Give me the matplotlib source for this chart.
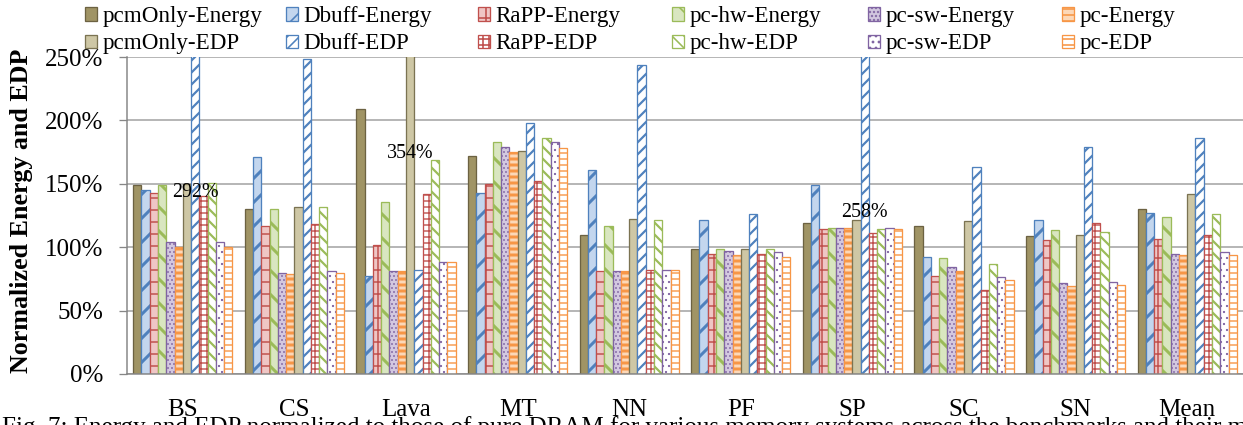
import numpy as np
import matplotlib
matplotlib.use("Agg")
import matplotlib.pyplot as plt

plt.rcParams['font.family'] = ['Liberation Serif', 'DejaVu Serif']
plt.rcParams['hatch.linewidth'] = 1.6

benchmarks = ['BS', 'CS', 'Lava', 'MT', 'NN', 'PF', 'SP', 'SC', 'SN', 'Mean']

# normalized values in percent
pcm_energy = [149, 130.5, 209, 172, 109.7, 98.4, 119.2, 116.6, 108.7, 130.5]
dbuff_energy = [145.5, 171, 77.4, 143, 160.5, 121.3, 149, 92.4, 121.3, 127]
rapp_energy = [142.4, 117, 101.6, 150, 81, 94.7, 114.5, 77.4, 105.3, 106.3]
pchw_energy = [149, 130.5, 135.3, 182.6, 116.8, 98.4, 115.5, 91.3, 113.2, 123.7]
pcsw_energy = [104, 79.7, 81, 179, 81, 97, 115.5, 84.2, 71.6, 94.7]
pc_energy = [100.5, 78.7, 81, 174.7, 81, 93.7, 115.5, 81, 69.5, 93.7]
pcm_edp = [150, 131.8, 354, 175.5, 122.4, 98.4, 121.3, 120.3, 109.7, 142]
dbuff_edp = [292, 248.4, 82, 197.6, 244, 126, 258, 163, 179.2, 186]
rapp_edp = [140, 118, 142, 152.6, 82, 94.7, 111, 66, 119.2, 109.7]
pchw_edp = [150.5, 131.8, 168.7, 186, 121.3, 98.4, 114.5, 86.6, 112, 126]
pcsw_edp = [104, 81, 88, 182.6, 82, 96, 115.5, 76.3, 72.6, 96]
pc_edp = [100.5, 79.7, 88, 178, 82, 92.4, 114.5, 74.2, 70.5, 93.7]

# name, values, fill, edge/hatch colour, hatch, hatch linewidth
series = [
    ('pcmOnly-Energy', pcm_energy, '#a09465', '#6c6242', None, 1),
    ('Dbuff-Energy', dbuff_energy, '#c3d6ee', '#4f81bd', '/', 3.0),
    ('RaPP-Energy', rapp_energy, '#efc6c5', '#c0504d', '+', 1.5),
    ('pc-hw-Energy', pchw_energy, '#d9e6c0', '#9bbb59', '\\', 3.0),
    ('pc-sw-Energy', pcsw_energy, '#d3c8e0', '#8064a2', '...', 1),
    ('pc-Energy', pc_energy, '#fcd8b8', '#f79646', '--', 3.0),
    ('pcmOnly-EDP', pcm_edp, '#cec7a5', '#7b7352', None, 1),
    ('Dbuff-EDP', dbuff_edp, 'white', '#4f81bd', '//', 2.2),
    ('RaPP-EDP', rapp_edp, 'white', '#c0504d', '++', 1.4),
    ('pc-hw-EDP', pchw_edp, 'white', '#9bbb59', '\\\\', 2.2),
    ('pc-sw-EDP', pcsw_edp, 'white', '#8064a2', '..', 1),
    ('pc-EDP', pc_edp, 'white', '#f79646', '--', 1.4),
]

W, H = 1243, 425
fig = plt.figure(figsize=(W / 72, H / 72), dpi=72)
ax = fig.add_axes([127 / W, 51 / H, 1116 / W, 317 / H])

x = np.arange(len(benchmarks))
w = 1 / 13.5
ymax = 250
bars = []
for k, (name, vals, fc, ec, hatch, hlw) in enumerate(series):
    b = ax.bar(x + (k - 5.5) * w, vals, w, color=fc, edgecolor=ec,
               hatch=hatch, linewidth=1.3, label=name, zorder=2)
    for p in b.patches:
        if hasattr(p, 'set_hatch_linewidth'):
            p.set_hatch_linewidth(hlw)
    bars.append(b)

# data labels for bars cut off by the axis limit
label_y = {0: 143, 2: 174, 6: 127}
for k, (name, vals, fc, ec, hatch, hlw) in enumerate(series):
    for i, v in enumerate(vals):
        if v > ymax:
            ax.text(x[i] + (k - 5.5) * w, label_y[i], f'{v:.0f}%', ha='center',
                    va='center', fontsize=20, zorder=5)

ax.set_xlim(-0.5, 9.5)
ax.set_ylim(0, ymax)
ax.set_yticks(np.arange(0, 251, 50))
ax.set_yticklabels([f'{t}%' for t in range(0, 251, 50)])
ax.set_xticks(x)
ax.set_xticklabels(benchmarks)
ax.tick_params(axis='y', labelsize=25, length=8, width=1.3, color='#868686', pad=16)
ax.tick_params(axis='x', labelsize=25, length=0, pad=25)
ax.grid(axis='y', color='#a6a6a6', linewidth=1.6, zorder=0)
ax.set_axisbelow(True)
for s in ['top', 'right']:
    ax.spines[s].set_visible(False)
for s in ['left', 'bottom']:
    ax.spines[s].set_color('#868686')
    ax.spines[s].set_linewidth(1.5)

fig.text(22 / W, 1 - 211 / H, 'Normalized Energy and EDP', rotation=90,
         ha='center', va='center', fontsize=26, fontweight='bold')

# legend: one column per scheme, Energy on top, EDP below
col_x = [85, 286, 478, 672, 868, 1062]
for j in range(6):
    leg = fig.legend(handles=[bars[j], bars[j + 6]],
                     labels=[series[j][0], series[j + 6][0]],
                     loc='upper left', bbox_to_anchor=(col_x[j] / W, 1 - 6 / H),
                     frameon=False, borderpad=0, borderaxespad=0, fontsize=23,
                     handlelength=0.52, handleheight=0.52, handletextpad=0.25,
                     labelspacing=0.28)

fig.text(2 / W, 1 - 416 / H,
         'Fig. 7: Energy and EDP normalized to those of pure DRAM for various '
         'memory systems across the benchmarks and their mean',
         ha='left', va='top', fontsize=25)

fig.savefig('out.png', dpi=72)
